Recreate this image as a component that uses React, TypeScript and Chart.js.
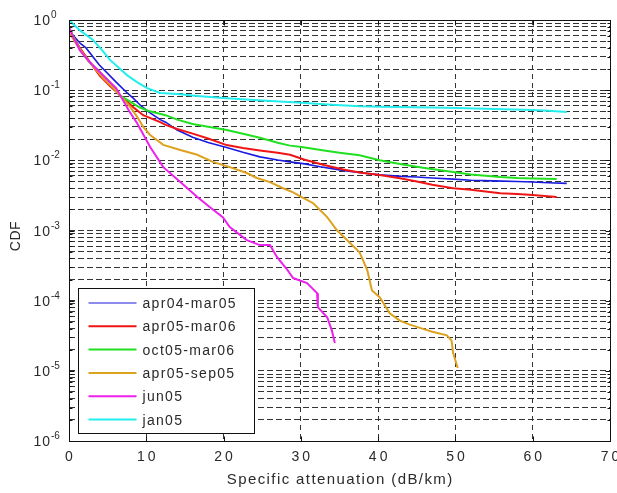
import React, { useEffect, useRef } from 'react';
import { Chart, registerables } from 'chart.js';

Chart.register(...registerables);

// ---------- data ----------
const seriesLabels = ['apr04-mar05', 'apr05-mar06', 'oct05-mar06', 'apr05-sep05', 'jun05', 'jan05'];
const seriesColors = ['#1a1ae0', '#f01515', '#20e020', '#dca21e', '#ee20ee', '#22eeee'];
const seriesWidths = [1.6, 2, 2, 2, 2, 2];

const apr04X = [0, 0.5, 1.5, 2.2, 3.9, 6.1, 7.5, 8.3, 9.3, 10.3, 11.8, 12.5, 14, 16, 18, 20.4, 22.5, 24.7, 27, 28.6, 30.5, 32.5, 35.4, 38, 40.2, 43, 45, 47, 49.7, 52, 55, 58, 60, 62, 64.4];
const apr04Y = [0.72, 0.61, 0.46, 0.4, 0.23, 0.13, 0.092, 0.077, 0.06, 0.049, 0.038, 0.035, 0.027, 0.0214, 0.018, 0.0152, 0.013, 0.0112, 0.0101, 0.0095, 0.0089, 0.0081, 0.0072, 0.0066, 0.0062, 0.0059, 0.0058, 0.0056, 0.0054, 0.0052, 0.0051, 0.005, 0.0049, 0.0048, 0.0047];

const apr05X = [0, 0.5, 1.4, 2.5, 4, 5.3, 6.6, 8.5, 9.6, 11.8, 12.5, 14, 16, 18, 20.4, 22.5, 24.7, 27, 28.6, 30.5, 33, 35.5, 37.6, 40.2, 43, 45, 47, 49.7, 52, 55.8, 58, 60, 63.1];
const apr05Y = [0.75, 0.6, 0.4, 0.27, 0.16, 0.115, 0.085, 0.055, 0.044, 0.035, 0.032, 0.028, 0.024, 0.0205, 0.0165, 0.015, 0.0138, 0.0128, 0.012, 0.0102, 0.0086, 0.0074, 0.0067, 0.0062, 0.0055, 0.005, 0.0045, 0.004, 0.0038, 0.0034, 0.0033, 0.0032, 0.003];

const oct05X = [0, 0.5, 1.4, 2.5, 4, 5.3, 6.5, 7.8, 9.1, 10.2, 12.5, 14, 16, 18, 20.4, 22.5, 24.7, 27, 28.6, 30.1, 33, 35, 37.6, 40.2, 43, 46, 49.7, 52, 55.8, 58, 60, 63.1];
const oct05Y = [0.75, 0.6, 0.38, 0.26, 0.18, 0.13, 0.085, 0.07, 0.057, 0.051, 0.044, 0.038, 0.033, 0.03, 0.027, 0.024, 0.021, 0.0178, 0.0162, 0.0155, 0.0138, 0.0128, 0.0118, 0.01, 0.0088, 0.0078, 0.0068, 0.0063, 0.0058, 0.0056, 0.0055, 0.0054];

const sep05X = [0, 0.4, 1.4, 2.7, 4.4, 6, 7.8, 8.8, 9.6, 10.5, 12.2, 14.4, 16.6, 18.6, 20.8, 23, 24.3, 26, 27.7, 29, 30.1, 31.6, 33.4, 34.7, 36.4, 37.6, 38.6, 39.2, 40.2, 41.5, 42.8, 44, 45.4, 47, 48.9, 49.5, 49.7, 50.0, 50.3];
const sep05Y = [0.68, 0.57, 0.38, 0.25, 0.15, 0.1, 0.06, 0.042, 0.03, 0.023, 0.0166, 0.014, 0.012, 0.0095, 0.008, 0.0066, 0.0056, 0.0049, 0.004, 0.0035, 0.003, 0.00245, 0.00155, 0.001, 0.00066, 0.00049, 0.00027, 0.00014, 0.000112, 0.000066, 0.000052, 0.000046, 0.000041, 0.000036, 0.000032, 0.000027, 0.000018, 0.000014, 0.000011];

const jun05X = [0, 0.4, 1.4, 2.7, 4, 5.3, 6.1, 7.8, 8.8, 10.5, 12.2, 14.4, 16.6, 18.2, 19.9, 20.8, 23.0, 24.7, 26.0, 26.9, 28.2, 29, 30.8, 32.1, 32.2, 33.4, 34.0, 34.4];
const jun05Y = [0.8, 0.62, 0.37, 0.25, 0.18, 0.13, 0.107, 0.05, 0.034, 0.0155, 0.008, 0.0049, 0.003, 0.00216, 0.00155, 0.00112, 0.00073, 0.00062, 0.00062, 0.00042, 0.00028, 0.00021, 0.000178, 0.000128, 0.000081, 0.000058, 0.000038, 0.000025];

const jan05X = [0, 0.3, 1.5, 3.1, 4.2, 5.3, 6.4, 7.5, 8.8, 10.1, 11.8, 14, 17, 20.4, 25, 30.1, 34, 37.6, 40.2, 45, 50.2, 55, 60, 62, 64.4];
const jan05Y = [1.0, 0.93, 0.7, 0.52, 0.38, 0.27, 0.21, 0.164, 0.13, 0.107, 0.091, 0.088, 0.082, 0.077, 0.071, 0.066, 0.062, 0.059, 0.058, 0.057, 0.0556, 0.054, 0.052, 0.051, 0.049];

const seriesX = [apr04X, apr05X, oct05X, sep05X, jun05X, jan05X];
const seriesY = [apr04Y, apr05Y, oct05Y, sep05Y, jun05Y, jan05Y];

const xTicks = [0, 10, 20, 30, 40, 50, 60, 70];
const yDecades = [0, -1, -2, -3, -4, -5, -6];
const xTitle = 'Specific attenuation (dB/km)';
const yTitle = 'CDF';

const yGridValues: number[] = [];
for (let e = -6; e < 0; e++) {
  for (let m = 1; m <= 9; m++) yGridValues.push(Number((m * Math.pow(10, e)).toPrecision(3)));
}
yGridValues.push(1);

const FONT = '"Liberation Sans", Arial, Helvetica, sans-serif';
const TEXT = '#2a2a2a';

const decorPlugin = {
  id: 'decor',
  afterDraw(chart: any) {
    const { ctx, chartArea: a, scales } = chart;
    const xs = scales.x;
    const ys = scales.y;
    ctx.save();
    ctx.setLineDash([]);
    // axes box
    ctx.strokeStyle = '#111';
    ctx.lineWidth = 1;
    const L = Math.round(a.left) + 0.5, T = Math.round(a.top) + 0.5;
    const R = Math.round(a.right) + 0.5, B = Math.round(a.bottom) + 0.5;
    ctx.strokeRect(L, T, R - L, B - T);
    // inward ticks
    ctx.beginPath();
    for (const v of xTicks) {
      const px = Math.round(xs.getPixelForValue(v)) + 0.5;
      ctx.moveTo(px, B); ctx.lineTo(px, B - 5);
      ctx.moveTo(px, T); ctx.lineTo(px, T + 5);
    }
    for (const v of yGridValues) {
      const py = Math.round(ys.getPixelForValue(v)) + 0.5;
      const lg = Math.log10(v);
      const len = Math.abs(lg - Math.round(lg)) < 1e-6 ? 5 : 3;
      ctx.moveTo(L, py); ctx.lineTo(L + len, py);
      ctx.moveTo(R, py); ctx.lineTo(R - len, py);
    }
    ctx.stroke();

    ctx.fillStyle = TEXT;
    // x tick labels
    ctx.font = `14px ${FONT}`;
    (ctx as any).letterSpacing = '3px';
    ctx.textAlign = 'center';
    ctx.textBaseline = 'alphabetic';
    for (const v of xTicks) ctx.fillText(String(v), xs.getPixelForValue(v) + 1.5, a.bottom + 20);

    // y tick labels 10^e
    for (const e of yDecades) {
      const py = ys.getPixelForValue(Math.pow(10, e));
      ctx.font = `14px ${FONT}`;
      (ctx as any).letterSpacing = '1px';
      ctx.textAlign = 'right';
      ctx.fillText('10', a.left - 18, py + 5);
      ctx.font = `10px ${FONT}`;
      (ctx as any).letterSpacing = '0px';
      ctx.textAlign = 'left';
      ctx.fillText(String(e), a.left - 18, py - 2);
    }

    // x title
    ctx.font = `15px ${FONT}`;
    (ctx as any).letterSpacing = '1.4px';
    ctx.textAlign = 'center';
    ctx.fillText(xTitle, (a.left + a.right) / 2 + 0.7, a.bottom + 43);

    // y title
    ctx.save();
    ctx.translate(20, 236);
    ctx.rotate(-Math.PI / 2);
    ctx.font = `14px ${FONT}`;
    (ctx as any).letterSpacing = '0.5px';
    ctx.textAlign = 'center';
    ctx.fillText(yTitle, 0, 0);
    ctx.restore();

    // legend
    const lx = Math.round(a.left) + 9.5;
    const lyTop = 288.5;
    const lw = 176;
    const lh = 145;
    ctx.fillStyle = '#ffffff';
    ctx.fillRect(lx, lyTop, lw, lh);
    ctx.strokeStyle = '#111';
    ctx.lineWidth = 1;
    ctx.strokeRect(lx, lyTop, lw, lh);
    const ds = chart.data.datasets;
    ctx.font = `14px ${FONT}`;
    (ctx as any).letterSpacing = '1.3px';
    ctx.textAlign = 'left';
    for (let i = 0; i < ds.length; i++) {
      const cy = lyTop + 14.5 + i * 23.3;
      ctx.strokeStyle = ds[i].borderColor;
      ctx.lineWidth = i === 0 ? 1.2 : 2;
      ctx.beginPath();
      ctx.moveTo(lx + 10, cy);
      ctx.lineTo(lx + 58, cy);
      ctx.stroke();
      ctx.fillStyle = TEXT;
      ctx.fillText(ds[i].label, lx + 64, cy + 5);
    }
    ctx.restore();
  },
};

export default function App() {
  const ref = useRef<HTMLCanvasElement | null>(null);
  useEffect(() => {
    if (!ref.current) return;
    const n = seriesLabels.length;
    const chart = new Chart(ref.current, {
      type: 'line',
      data: {
        datasets: seriesLabels.map((label, i) => ({
          label,
          data: seriesX[i].map((x, j) => ({ x, y: seriesY[i][j] })),
          borderColor: seriesColors[i],
          backgroundColor: seriesColors[i],
          borderWidth: seriesWidths[i],
          pointRadius: 0,
          tension: 0,
          fill: false,
          order: n - i,
        })),
      },
      options: {
        responsive: false,
        animation: false,
        events: [],
        layout: { padding: { left: 69, right: 7, top: 20, bottom: 52 } },
        plugins: { legend: { display: false }, tooltip: { enabled: false }, title: { display: false } },
        scales: {
          x: {
            type: 'linear',
            min: 0,
            max: 70,
            afterBuildTicks: (scale: any) => {
              scale.ticks = xTicks.map((v) => ({ value: v }));
            },
            ticks: { display: false },
            grid: { color: '#333', lineWidth: 1, drawTicks: false },
            border: { display: false, dash: [5, 4] },
          },
          y: {
            type: 'logarithmic',
            min: 1e-6,
            max: 1,
            afterBuildTicks: (scale: any) => {
              scale.ticks = yGridValues.map((v) => ({ value: v }));
            },
            ticks: { display: false },
            grid: { color: '#333', lineWidth: 1, drawTicks: false },
            border: { display: false, dash: [6, 3] },
          },
        },
      },
      plugins: [decorPlugin],
    } as any);
    return () => chart.destroy();
  }, []);
  return (
    <div style={{ position: 'fixed', left: 0, top: 0, width: 617, height: 493, background: '#fff' }}>
      <canvas ref={ref} width={617} height={493} style={{ display: 'block' }} />
    </div>
  );
}
